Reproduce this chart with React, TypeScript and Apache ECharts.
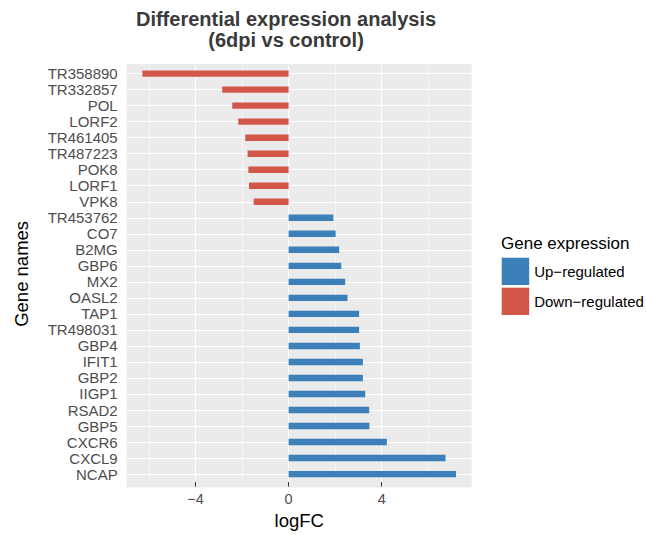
import React, { useEffect, useRef } from 'react';
import * as echarts from 'echarts';

const genes = ['TR358890', 'TR332857', 'POL', 'LORF2', 'TR461405', 'TR487223', 'POK8', 'LORF1', 'VPK8', 'TR453762', 'CO7', 'B2MG', 'GBP6', 'MX2', 'OASL2', 'TAP1', 'TR498031', 'GBP4', 'IFIT1', 'GBP2', 'IIGP1', 'RSAD2', 'GBP5', 'CXCR6', 'CXCL9', 'NCAP'];
const logFC = [-6.28, -2.85, -2.42, -2.16, -1.86, -1.76, -1.73, -1.70, -1.50, 1.92, 2.02, 2.17, 2.26, 2.43, 2.53, 3.03, 3.03, 3.06, 3.19, 3.19, 3.29, 3.46, 3.47, 4.22, 6.74, 7.19];
const majorTicks = [-4, 0, 4];
const minorTicks = [-6, -2, 2, 6];
const legendNames = ['Up\u2212regulated', 'Down\u2212regulated'];

const BLUE = '#3b80b9';
const RED = '#d2564a';
const FONT = '"Liberation Sans", Arial, Helvetica, sans-serif';

export default function App() {
  const ref = useRef<HTMLDivElement>(null);
  useEffect(() => {
    if (!ref.current) return;
    const chart = echarts.init(ref.current, undefined, { renderer: 'svg' });
    const lo = Math.min(...logFC);
    const hi = Math.max(...logFC);
    const pad = (hi - lo) * 0.05;
    const fmt = (v: number) => (v < 0 ? '\u2212' + Math.abs(v) : String(v));
    const white = (w: number) => ({ color: '#ffffff', width: w, type: 'solid' as const });
    chart.setOption({
      animation: false,
      textStyle: { fontFamily: FONT },
      title: [
        {
          text: 'Differential expression analysis\n(6dpi vs control)',
          left: 286,
          top: 8.5,
          textAlign: 'center',
          padding: 0,
          textStyle: { fontSize: 20, fontWeight: 'bold', color: '#3a3a3a', lineHeight: 21, fontFamily: FONT },
        },
        {
          text: 'Gene expression',
          left: 501,
          top: 235,
          padding: 0,
          textStyle: { fontSize: 17, fontWeight: 'normal', color: '#000', fontFamily: FONT },
        },
      ],
      legend: {
        orient: 'vertical',
        left: 501.7,
        top: 257.7,
        padding: 0,
        itemWidth: 27.5,
        itemHeight: 27.3,
        itemGap: 2.7,
        icon: 'rect',
        selectedMode: false,
        data: legendNames,
        textStyle: { fontSize: 15, color: '#000', fontFamily: FONT },
      },
      grid: { left: 126.7, right: 174.3, top: 65.6, bottom: 49.1, containLabel: false },
      graphic: {
        elements: [
          {
            type: 'rect',
            z: -10,
            silent: true,
            shape: { x: 126.7, y: 64, width: 345, height: 423.5 },
            style: { fill: '#ebebeb' },
          },
        ],
      },
      xAxis: {
        type: 'value',
        min: lo - pad,
        max: hi + pad,
        splitLine: { show: false },
        axisLine: { show: false },
        axisTick: { show: true, length: 4.5, lineStyle: { color: '#333' }, customValues: majorTicks },
        axisLabel: { customValues: majorTicks, color: '#4d4d4d', fontSize: 14.5, margin: 9, formatter: fmt },
        name: 'logFC',
        nameLocation: 'middle',
        nameGap: 28.5,
        nameTextStyle: { fontSize: 18.5, color: '#000' },
      },
      yAxis: {
        type: 'category',
        data: genes,
        inverse: true,
        axisLine: { show: false },
        axisTick: { show: true, alignWithLabel: true, interval: 0, length: 4.5, lineStyle: { color: '#333' } },
        axisLabel: { color: '#4d4d4d', fontSize: 15, margin: 9, interval: 0 },
        splitLine: { show: false },
        name: 'Gene names',
        nameLocation: 'middle',
        nameGap: 96,
        nameTextStyle: { fontSize: 18.5, color: '#000' },
      },
      series: [
        {
          type: 'line',
          data: [],
          z: 1,
          silent: true,
          markLine: {
            silent: true,
            z: 1,
            symbol: ['none', 'none'],
            label: { show: false },
            emphasis: { disabled: true },
            data: [
              ...genes.map((g) => ({ yAxis: g, lineStyle: white(1.1) })),
              ...majorTicks.map((v) => ({ xAxis: v, lineStyle: white(1.1) })),
              ...minorTicks.map((v) => ({ xAxis: v, lineStyle: white(0.55) })),
            ],
          },
        },
        {
          name: legendNames[0],
          type: 'bar',
          stack: 'fc',
          z: 5,
          barWidth: '40%',
          itemStyle: { color: BLUE },
          data: logFC.map((v) => (v > 0 ? v : '-')),
        },
        {
          name: legendNames[1],
          type: 'bar',
          stack: 'fc',
          z: 5,
          barWidth: '40%',
          itemStyle: { color: RED },
          data: logFC.map((v) => (v < 0 ? v : '-')),
        },
      ],
    });
    return () => chart.dispose();
  }, []);
  return <div ref={ref} style={{ position: 'fixed', left: 0, top: 0, width: 646, height: 535, background: '#fff' }} />;
}
